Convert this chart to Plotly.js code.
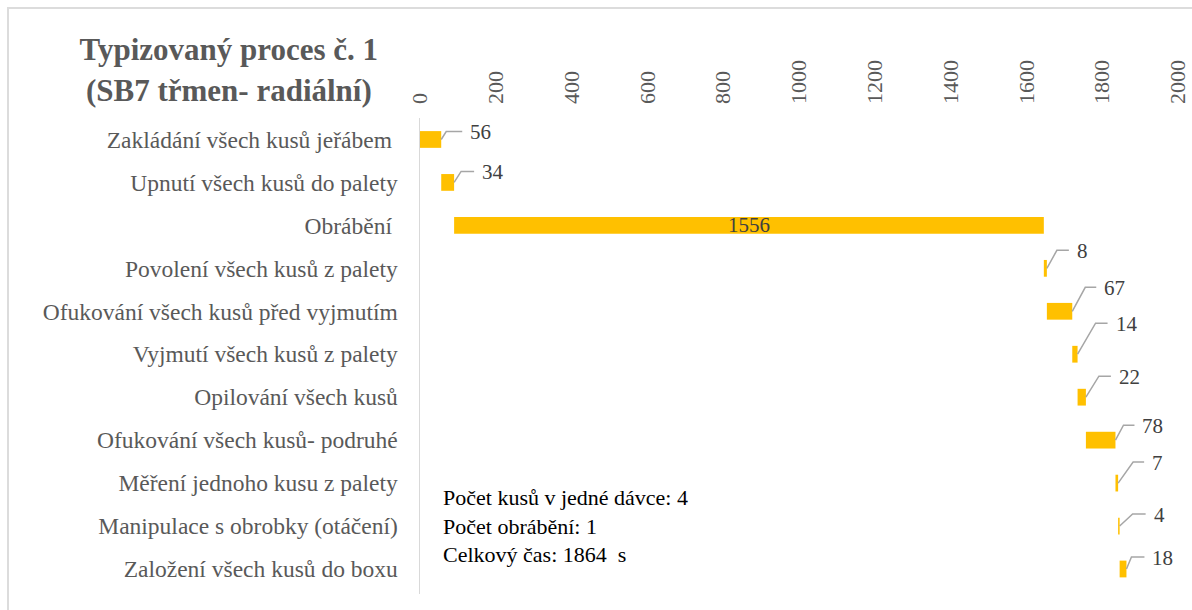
<!DOCTYPE html>
<html>
<head>
<meta charset="utf-8">
<script src="https://cdn.plot.ly/plotly-3.0.1.min.js"></script>
<style>
  html, body { margin: 0; padding: 0; background: #fff; overflow: hidden; }
  #chart { width: 1192px; height: 610px; }
  #frame { position: absolute; left: 7px; top: 7px; width: 1300px; height: 700px;
           border-top: 2px solid #dcdcdc; border-left: 2px solid #dcdcdc; pointer-events: none; }
</style>
</head>
<body>
<div id="chart"></div>
<div id="frame"></div>
<script>
// ---- data ----
const categories = [
  "Zakládání všech kusů jeřábem ",
  "Upnutí všech kusů do palety",
  "Obrábění ",
  "Povolení všech kusů z palety",
  "Ofukování všech kusů před vyjmutím",
  "Vyjmutí všech kusů z palety",
  "Opilování všech kusů",
  "Ofukování všech kusů- podruhé",
  "Měření jednoho kusu z palety",
  "Manipulace s obrobky (otáčení)",
  "Založení všech kusů do boxu"
];
const durations = [56, 34, 1556, 8, 67, 14, 22, 78, 7, 4, 18];
const tickValues = [0, 200, 400, 600, 800, 1000, 1200, 1400, 1600, 1800, 2000];
const titleLines = ["Typizovaný proces č. 1", "(SB7 třmen- radiální)"];
const infoLines = ["Počet kusů v jedné dávce: 4", "Počet obrábění: 1", "Celkový čas: 1864  s"];

// ---- label leader styling (pixel offsets: knee dx, knee up dy, horizontal length) ----
const leaderStyle = [
  [5, 8, 16], [7, 11, 13], null, [10, 18, 12], [13, 24, 11], [18, 31, 12],
  [13, 21, 12], [8, 15, 11], [15, 21, 11], [13, 12, 13], [5, 12, 13]
];

// waterfall bases from cumulative sums
const bases = [];
let acc = 0;
durations.forEach(d => { bases.push(acc); acc += d; });
const ends = bases.map((b, i) => b + durations[i]);

const serif = "Liberation Serif, Times New Roman, serif";
const grey = "#595959";

const trace = {
  type: "bar",
  orientation: "h",
  y: categories,
  x: durations,
  base: bases,
  width: 0.39,
  marker: { color: "#FFC000", line: { width: 0 } },
  hoverinfo: "skip"
};

const shapes = [];
const annotations = [];
durations.forEach((d, i) => {
  const st = leaderStyle[i];
  if (!st) {
    annotations.push({
      x: bases[i] + d / 2, y: categories[i], xref: "x", yref: "y",
      text: String(d), showarrow: false, xanchor: "center", yanchor: "middle",
      font: { family: serif, size: 21, color: "#404040" }
    });
    return;
  }
  const [dx, dy, h] = st;
  shapes.push({
    type: "path", xref: "x", yref: "y",
    xsizemode: "pixel", ysizemode: "pixel",
    xanchor: ends[i], yanchor: categories[i],
    path: `M 0 0 L ${dx} ${dy} L ${dx + h} ${dy}`,
    line: { color: "#a6a6a6", width: 1.5 }
  });
  annotations.push({
    x: ends[i], y: categories[i], xref: "x", yref: "y",
    text: String(d), showarrow: false, xanchor: "left", yanchor: "middle",
    xshift: dx + h + 6, yshift: dy - 1,
    font: { family: serif, size: 21, color: "#404040" }
  });
});

annotations.push({
  xref: "paper", yref: "paper", x: 0.028, y: 0.143,
  xanchor: "left", yanchor: "middle", align: "left", showarrow: false,
  text: infoLines.join("<br>"),
  font: { family: serif, size: 22, color: "#000000" }
});

const layout = {
  width: 1192, height: 610,
  margin: { l: 420, r: 14, t: 118, b: 16, pad: 0 },
  paper_bgcolor: "#ffffff", plot_bgcolor: "#ffffff",
  showlegend: false,
  title: {
    text: "<b>" + titleLines.join("<br>") + "</b>",
    x: 0.192, xanchor: "center", xref: "container",
    y: 0.901, yanchor: "middle", yref: "container",
    font: { family: serif, size: 31, color: grey }
  },
  xaxis: {
    side: "top", range: [0, 2000], tickvals: tickValues,
    ticktext: tickValues.map(String),
    tickangle: -90, showgrid: false, zeroline: false, showline: false,
    ticks: "", ticklabelstandoff: 13, ticklabeloverflow: "allow",
    tickfont: { family: serif, size: 22, color: grey },
    fixedrange: true
  },
  yaxis: {
    type: "category", autorange: "reversed",
    showgrid: false, zeroline: false,
    showline: true, linecolor: "#d9d9d9", linewidth: 1.5,
    ticks: "", ticklabelstandoff: 16,
    tickfont: { family: serif, size: 23.5, color: grey },
    fixedrange: true
  },
  shapes: shapes,
  annotations: annotations
};

Plotly.newPlot("chart", [trace], layout, { displayModeBar: false, staticPlot: true });
</script>
</body>
</html>
